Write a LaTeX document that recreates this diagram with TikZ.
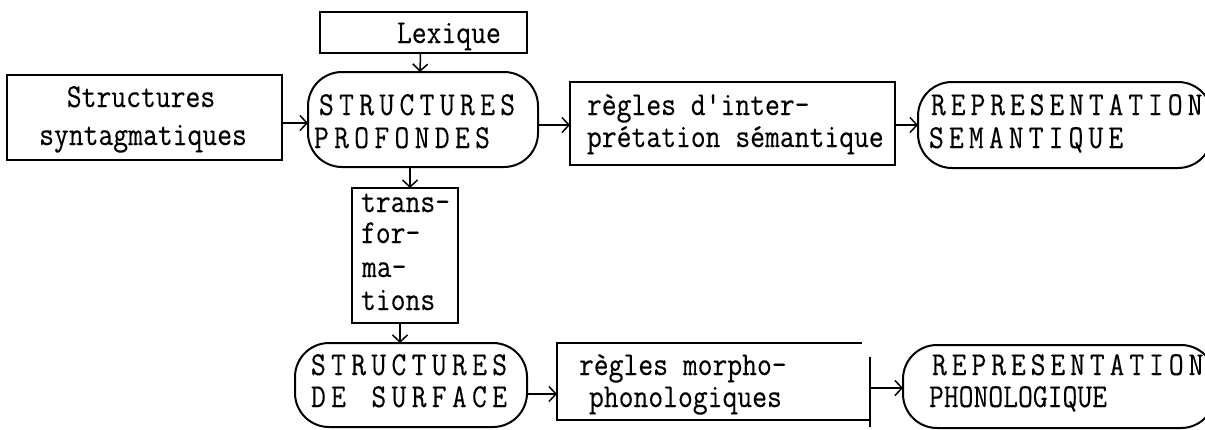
\documentclass[tikz,border=0pt]{standalone}
\usepackage{fontspec}
\usetikzlibrary{arrows.meta}
\newfontfamily\twfont{lmmono12-regular.otf}[FakeStretch=0.86, FakeBold=0.2]
\newcommand\dgfont{\twfont\fontsize{33.5}{37}\selectfont}
\ExplSyntaxOn
\NewDocumentCommand\lsp{O{5.3pt} m}{\tl_map_inline:nn{#2}{##1\hspace{#1}}\unskip}
\ExplSyntaxOff
\begin{document}
\begin{tikzpicture}[x=1pt,y=-1pt,
  box/.style={draw, line width=1.5pt, rectangle, inner sep=0pt, outer sep=0pt},
  blob/.style={draw, line width=2pt, rectangle, rounded corners=34pt, inner sep=0pt, outer sep=0pt},
  hid/.style={rectangle, inner sep=0pt, outer sep=0pt},
  sideline/.style={line width=1.5pt, black},
  txt/.style={anchor=base west, inner sep=0pt, outer sep=0pt, font=\dgfont},
  arr/.style={line width=1.5pt, -{Straight Barb[length=7pt,width=15pt]}}]
\fill[white] (0,0) rectangle (1205,429);
\useasboundingbox (0,0) rectangle (1205,429);
% boxes and blobs
\node[box,  minimum width=207pt, minimum height=41pt] (lex)   at (423.5,32.5) {};
\node[box,  minimum width=275pt, minimum height=85pt] (syn)   at (144.5,117.5) {};
\node[blob, minimum width=230pt, minimum height=95pt] (prof)  at (423,119.5) {};
\node[box,  minimum width=325pt, minimum height=83pt] (reg)   at (732.5,123.5) {};
\node[blob, minimum width=294pt, minimum height=86pt] (sem)   at (1065,125) {};
\node[box,  minimum width=106pt, minimum height=135pt] (trans) at (405,255.5) {};
\node[blob, minimum width=232pt, minimum height=84pt] (surf)  at (411,385) {};
\node[hid,  minimum width=313pt, minimum height=77pt] (morph) at (713.5,381.5) {};
\node[blob, minimum width=312pt, minimum height=83pt] (phon)  at (1059,386.5) {};
% hand-drawn sides of the morpho box
\coordinate (mNW) at (morph.north west);
\coordinate (mSW) at (morph.south west);
\coordinate (mSE) at (morph.south east);
\coordinate (mNE) at (morph.north east);
\draw[sideline] ([xshift=-8pt]mNE) -- (mNW) -- (mSW) -- (mSE);
\draw[sideline] ([yshift=-14pt]mNE) -- ([yshift=-7pt]mSE);
% texts
\node[txt] (lexT) at (397,43) {Lexique};
\node[txt, anchor=base] (synT1) at (141,107) {Structures};
\node[txt, anchor=base] (synT2) at (143,145) {syntagmatiques};
\node[txt] (profT1) at (319,115) {\lsp{STRUCTURES}};
\node[txt] (profT2) at (314,148) {\lsp{PROFONDES}};
\node[txt] (regT1) at (587,115) {règles d'inter-};
\node[txt] (regT2) at (587,147) {prétation sémantique};
\node[txt] (semT1) at (931,115) {\lsp[4.9pt]{REPRESENTATION}};
\node[txt] (semT2) at (929,148) {\lsp[5.1pt]{SEMANTIQUE}};
\node[txt] (trT1) at (361,212) {trans-};
\node[txt] (trT2) at (361,243) {for-};
\node[txt] (trT3) at (362,277) {ma-};
\node[txt] (trT4) at (361,310) {tions};
\node[txt] (surfT1) at (311,375) {\lsp{STRUCTURES}};
\node[txt] (surfT2) at (311,407) {\lsp{DE~SURFACE}};
\node[txt] (morT1) at (579,375) {règles morpho-};
\node[txt] (morT2) at (589,407) {phonologiques};
\node[txt] (phT1) at (932,375) {\lsp[4.9pt]{REPRESENTATION}};
\node[txt] (phT2) at (929,407) {PHONOLOGIQUE};
% connectors
\draw[arr] ([xshift=-3pt]lex.south) -- ([xshift=-3pt]prof.north);
\draw[arr] ([yshift=-5.5pt]syn.east) -- ([yshift=-3.5pt]prof.west);
\draw[arr] ([yshift=-5.5pt]prof.east) -- ([yshift=-1.5pt]reg.west);
\draw[arr] ([yshift=-1.5pt]reg.east) -- (sem.west);
\draw[arr] ([xshift=-13pt]prof.south) -- ([xshift=5pt]trans.north);
\draw[arr] ([xshift=-5pt]trans.south) -- ([xshift=-11pt]surf.north);
\draw[arr] ([yshift=-9pt]surf.east) -- ([yshift=-12.5pt]morph.west);
\draw[arr] ([yshift=-6.5pt]morph.east) -- ([yshift=-1.5pt]phon.west);
\end{tikzpicture}
\end{document}
